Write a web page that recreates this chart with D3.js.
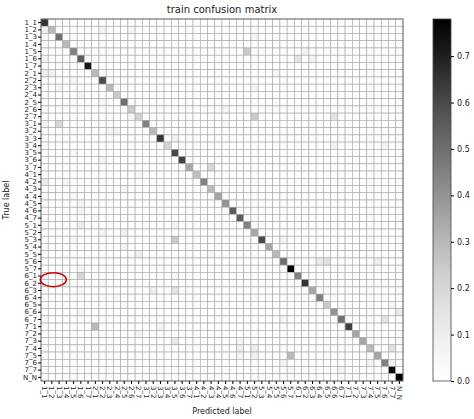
<!DOCTYPE html>
<html><head><meta charset="utf-8">
<script src="https://cdn.jsdelivr.net/npm/d3@7"></script>
<style>body{margin:0;background:#fff}text{font-family:"DejaVu Sans",sans-serif;fill:#222}</style>
</head><body><svg id="chart" width="474" height="419"></svg>
<script>
// class labels 1_1..7_7 plus N_N
var labels = [];
for (var a = 1; a <= 7; a++) for (var b = 1; b <= 7; b++) labels.push(a + "_" + b);
labels.push("N_N");

// diagonal (correct-class) rates
var diag = [0.65,0.30,0.50,0.30,0.45,0.55,0.72,0.30,0.60,0.30,0.25,0.50,0.25,0.22,
            0.45,0.30,0.65,0.22,0.60,0.62,0.35,0.28,0.45,0.30,0.35,0.40,0.55,0.55,
            0.45,0.35,0.60,0.35,0.30,0.50,0.78,0.45,0.65,0.35,0.45,0.25,0.40,0.50,
            0.62,0.35,0.35,0.30,0.35,0.45,0.76,0.78];

// off-diagonal confusions: [row, col, value]
var offDiag = [
  [1,0,0.08],[1,8,0.06],[1,12,0.05],[2,29,0.06],[2,32,0.04],[3,8,0.04],[4,28,0.25],[4,36,0.06],
  [5,0,0.08],[5,35,0.15],[5,37,0.08],[6,2,0.04],[7,0,0.10],[7,1,0.08],[7,32,0.06],[8,4,0.05],
  [9,2,0.06],[9,29,0.06],[10,5,0.06],[11,8,0.05],[12,25,0.06],[13,29,0.25],[13,40,0.15],[13,12,0.05],
  [14,0,0.08],[14,2,0.20],[14,25,0.05],[15,10,0.08],[15,9,0.08],[16,18,0.08],[17,40,0.08],[17,47,0.06],
  [18,4,0.05],[19,8,0.06],[20,23,0.20],[21,13,0.05],[22,0,0.10],[22,3,0.05],[23,11,0.06],[24,4,0.04],
  [25,5,0.06],[26,5,0.06],[27,7,0.05],[28,5,0.10],[28,18,0.06],[29,8,0.06],[29,11,0.08],[30,18,0.25],
  [30,4,0.05],[30,33,0.08],[31,11,0.06],[32,13,0.10],[32,23,0.06],[33,39,0.15],[33,38,0.12],[33,46,0.10],
  [34,5,0.06],[35,5,0.20],[35,18,0.05],[36,8,0.05],[36,3,0.04],[37,15,0.10],[37,18,0.15],[37,5,0.05],
  [38,10,0.05],[39,11,0.05],[39,48,0.06],[40,5,0.06],[40,49,0.12],[41,0,0.04],[41,33,0.06],[41,47,0.15],
  [42,7,0.30],[42,16,0.05],[43,13,0.06],[44,18,0.12],[44,27,0.06],[45,27,0.10],[45,29,0.10],[45,48,0.15],
  [46,27,0.06],[46,34,0.30],[46,29,0.08],[47,33,0.08],[47,45,0.06],[47,48,0.08],[48,34,0.05],[48,41,0.06]
];

var vmax = 0.78;
var cells = [];
labels.forEach(function(r, i){ labels.forEach(function(c, j){ cells.push({row:r, col:c, v: i === j ? diag[i] : 0.01}); }); });
offDiag.forEach(function(d){ cells[d[0] * labels.length + d[1]].v = d[2]; });

var svg = d3.select("#chart"),
    margin = {top: 19, left: 41},
    size = 362;

var x = d3.scaleBand().domain(labels).range([margin.left, margin.left + size]);
var y = d3.scaleBand().domain(labels).range([margin.top, margin.top + size]);
var color = d3.scaleSequential(d3.interpolateGreys).domain([0, vmax]);

svg.append("g").selectAll("rect").data(cells).enter().append("rect")
    .attr("x", d => x(d.col)).attr("y", d => y(d.row))
    .attr("width", x.bandwidth()).attr("height", y.bandwidth())
    .attr("fill", d => color(d.v)).attr("stroke", "#a8a8a8").attr("stroke-width", 0.6);

svg.append("rect").attr("x", margin.left).attr("y", margin.top).attr("width", size).attr("height", size)
    .attr("fill", "none").attr("stroke", "#555").attr("stroke-width", 0.8);

svg.append("g").attr("transform", `translate(${margin.left},0)`)
    .call(d3.axisLeft(y).tickSize(3).tickSizeOuter(0))
    .call(g => g.select(".domain").remove())
    .selectAll("text").style("font-size", "7px").attr("dx", "2px");

svg.append("g").attr("transform", `translate(0,${margin.top + size})`)
    .call(d3.axisBottom(x).tickSize(3).tickSizeOuter(0))
    .call(g => g.select(".domain").remove())
    .selectAll("text").style("font-size", "7px")
    .attr("y", 0).attr("x", 5).attr("dy", ".35em").attr("transform", "rotate(90)").style("text-anchor", "start");

svg.append("text").attr("x", margin.left + size / 2).attr("y", 13).attr("text-anchor", "middle")
    .style("font-size", "10px").text("train confusion matrix");
svg.append("text").attr("x", margin.left + size / 2).attr("y", 414).attr("text-anchor", "middle")
    .style("font-size", "8px").text("Predicted label");
svg.append("text").attr("transform", `translate(9,${margin.top + size / 2}) rotate(-90)`).attr("text-anchor", "middle")
    .style("font-size", "8px").text("True label");

// colour bar
var cb = {x: 433, w: 18};
var cy = d3.scaleLinear().domain([0, vmax]).range([margin.top + size, margin.top]);
var defs = svg.append("defs");
var grad = defs.append("linearGradient").attr("id", "cbar").attr("x1", 0).attr("y1", 1).attr("x2", 0).attr("y2", 0);
d3.range(0, 1.01, 0.1).forEach(t => grad.append("stop").attr("offset", t).attr("stop-color", color(t * vmax)));
svg.append("rect").attr("x", cb.x).attr("y", margin.top).attr("width", cb.w).attr("height", size)
    .attr("fill", "url(#cbar)").attr("stroke", "#444").attr("stroke-width", 0.8);
svg.append("g").attr("transform", `translate(${cb.x + cb.w},0)`)
    .call(d3.axisRight(cy).tickValues(d3.range(0, 0.75, 0.1)).tickFormat(d3.format(".1f")).tickSize(3))
    .call(g => g.select(".domain").remove())
    .selectAll("text").style("font-size", "8px");

// red marker ellipse
svg.append("ellipse").attr("cx", x("1_1") + x.bandwidth() * 1.7).attr("cy", y("6_2"))
    .attr("rx", 13).attr("ry", 7).attr("fill", "none").attr("stroke", "#c00").attr("stroke-width", 1.5);
</script></body></html>
